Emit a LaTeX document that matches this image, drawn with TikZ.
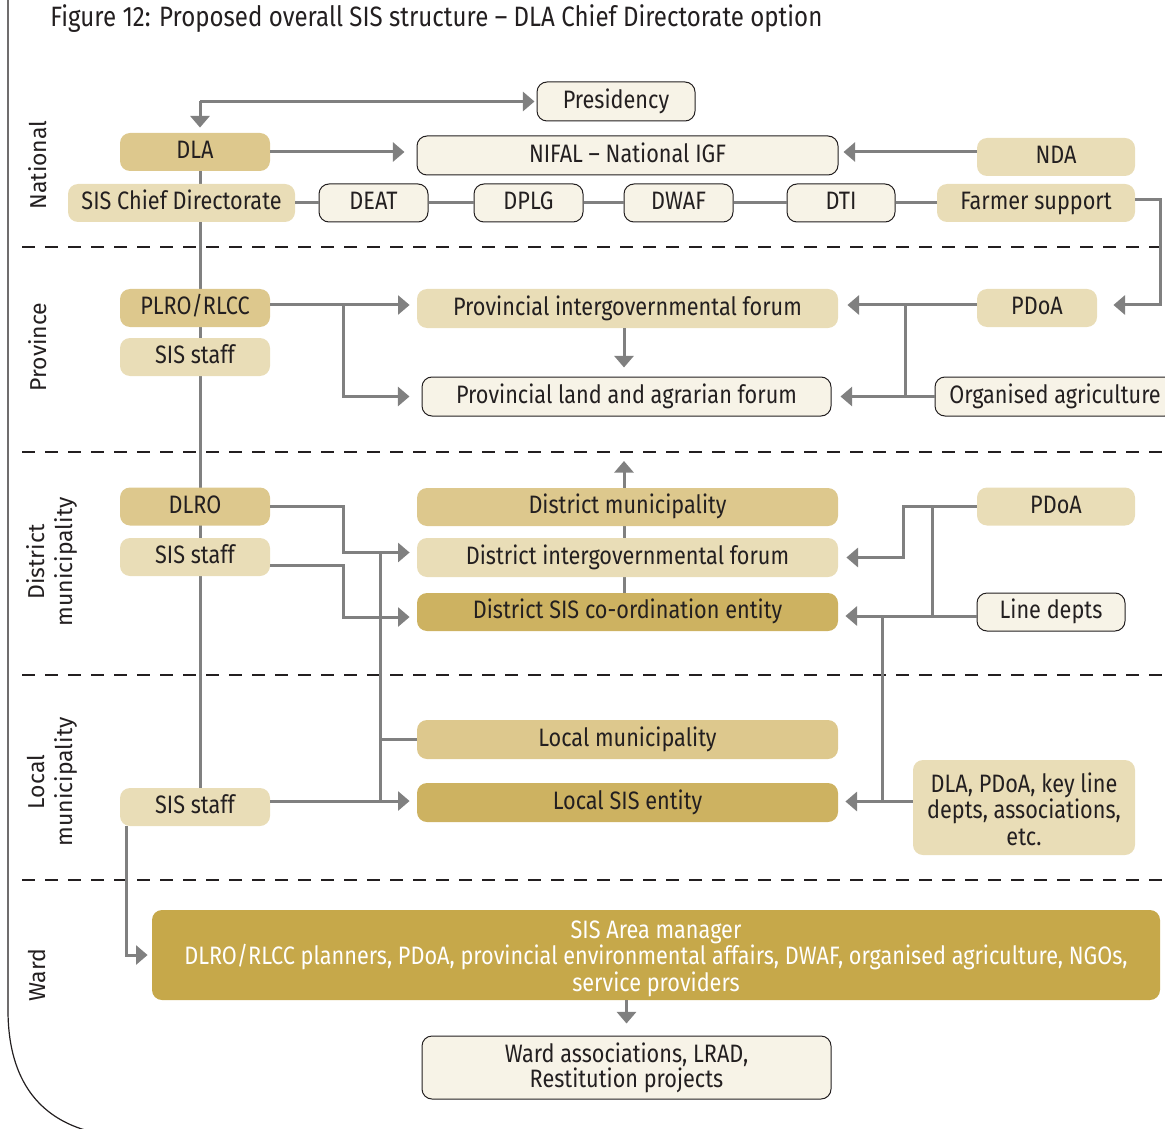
\documentclass[tikz,border=0pt]{standalone}
\usepackage{fontspec}
\setmainfont{Fira Sans}[FakeStretch=0.86]
\newfontfamily\labfont{Fira Sans}
\usetikzlibrary{arrows.meta,backgrounds,calc}
\definecolor{cdark}{HTML}{DDC88D}
\definecolor{clight}{HTML}{E9DDB7}
\definecolor{cmid}{HTML}{CDB261}
\definecolor{carea}{HTML}{C6A84A}
\definecolor{cout}{HTML}{F7F3E7}
\definecolor{cline}{HTML}{808080}
\definecolor{ctext}{HTML}{231F20}
\newcommand{\topstrut}[1]{\rule{0pt}{#1}}
\newcommand{\botstrut}{\rule[-2.5pt]{0pt}{2.5pt}}
\tikzset{
  boxbase/.style={rounded corners=5pt, inner sep=0pt, text=ctext, font=\fontsize{12.6pt}{13.25pt}\selectfont, align=center},
  box/.style={boxbase, text height=9.3pt, text depth=2.5pt},
  dark/.style={box, fill=cdark},
  light/.style={box, fill=clight},
  mid/.style={box, fill=cmid},
  outl/.style={box, fill=cout, draw=ctext, line width=0.5pt},
  multi/.style={text height={}, text depth={}},
  areabox/.style={boxbase, fill=carea, text=white},
  conn/.style={draw=cline, line width=1.5pt},
  arr/.style={conn, -{Triangle[length=5.8pt,width=9.5pt]}},
  dashline/.style={draw=ctext, line width=1.4pt, dash pattern=on 6.5pt off 5pt},
  lab/.style={rotate=90, font=\labfont\fontsize{11.5pt}{14pt}\selectfont, text=ctext, align=center},
}
\begin{document}
\begin{tikzpicture}[x=0.5pt,y=-0.5pt]
\useasboundingbox (0,0) rectangle (1165,1128);
\clip (0,0) rectangle (1165,1128);
% frame
\draw[ctext, line width=0.6pt] (8,0) -- (8,1010) .. controls (8,1075) and (35,1115) .. (85,1130);
% title
\node[anchor=base west, font=\fontsize{14pt}{16pt}\selectfont, text=ctext, inner sep=0pt] (title) at (50,27) {Figure 12: Proposed overall SIS structure – DLA Chief Directorate option};
% dashed separators
\foreach \yy in {247,452,675,880} \draw[dashline] (22,\yy) -- (1170,\yy);
% level labels
\node[lab] (lnat) at (38,165) {National};
\node[lab] (lprov) at (38,347) {Province};
\node[lab] (ldist) at (52,562) {District\\municipality};
\node[lab] (lloc) at (52,782) {Local\\municipality};
\node[lab] (lward) at (37,975) {Ward};
% coordinates
\coordinate (spine) at (200,0);
\coordinate (jx1) at (343,0);
\coordinate (jx3) at (380,0);
\coordinate (jx2) at (905,0);
\coordinate (jx4) at (903,0);
\coordinate (jx5) at (932,0);
\coordinate (jx6) at (882,0);
\coordinate (rightx) at (1160,0);
\coordinate (uptip) at (624,461);
% national
\node[outl, minimum width=79pt, minimum height=19.5pt] (pres) at (616,101.5) {Presidency};
\node[dark, minimum width=75pt, minimum height=19pt] (dla) at (195,152) {DLA};
\node[outl, minimum width=210.5pt, minimum height=19.5pt] (nifal) at (627.5,155.5) {NIFAL – National IGF};
\node[light, minimum width=79pt, minimum height=19pt] (nda) at (1056,157) {NDA};
\node[light, minimum width=113.5pt, minimum height=19pt] (sischief) at (181.5,203) {SIS Chief Directorate};
\node[outl, minimum width=54.5pt, minimum height=19pt] (deat) at (373.5,203) {DEAT};
\node[outl, minimum width=54.5pt, minimum height=19pt] (dplg) at (528.5,203) {DPLG};
\node[outl, minimum width=54.5pt, minimum height=19pt] (dwaf) at (678.5,203) {DWAF};
\node[outl, minimum width=54pt, minimum height=19pt] (dti) at (841,203) {DTI};
\node[light, minimum width=99pt, minimum height=19pt] (farmer) at (1036,203) {Farmer support};
% province
\node[dark, minimum width=75pt, minimum height=19pt] (plro) at (195,308) {PLRO/RLCC};
\node[light, minimum width=75pt, minimum height=19pt] (sisp) at (195,357) {SIS staff};
\node[light, minimum width=210.5pt, minimum height=19.5pt] (pigf) at (627.5,308.5) {Provincial intergovernmental forum};
\node[outl, minimum width=204.5pt, minimum height=19.5pt] (pland) at (626.5,396.5) {Provincial land and agrarian forum};
\node[light, minimum width=60pt, minimum height=19pt] (pdoap) at (1037,308) {PDoA};
\node[outl, minimum width=120pt, minimum height=19.5pt] (orgag) at (1055,396.5) {Organised agriculture};
% district
\node[dark, minimum width=75pt, minimum height=19pt] (dlro) at (195,506.5) {DLRO};
\node[light, minimum width=75pt, minimum height=19pt] (sisd) at (195,557) {SIS staff};
\node[dark, minimum width=210.5pt, minimum height=19pt] (dmun) at (627.5,507) {District municipality};
\node[light, minimum width=210.5pt, minimum height=19.5pt] (digf) at (627.5,557.5) {District intergovernmental forum};
\node[mid, minimum width=210.5pt, minimum height=19pt] (dsis) at (627.5,612) {District SIS co-ordination entity};
\node[light, minimum width=79pt, minimum height=19pt] (pdoad) at (1056,506.5) {PDoA};
\node[outl, minimum width=74pt, minimum height=19pt] (line) at (1051,612) {Line depts};
% local
\node[dark, minimum width=210.5pt, minimum height=19.5pt] (lmun) at (627.5,739.5) {Local municipality};
\node[mid, minimum width=210.5pt, minimum height=19.5pt] (lsis) at (627.5,802.5) {Local SIS entity};
\node[light, minimum width=75pt, minimum height=19pt] (sisl) at (195,807) {SIS staff};
\node[light, multi, minimum width=111pt, minimum height=47.5pt] (dlapdoa) at (1024,807.5) {\topstrut{13.5pt}DLA, PDoA, key line\\depts, associations,\\etc.\botstrut};
% ward
\node[areabox, minimum width=504pt, minimum height=45pt] (area) at (656,955) {\topstrut{12.5pt}SIS Area manager\\DLRO/RLCC planners, PDoA, provincial environmental affairs, DWAF, organised agriculture, NGOs,\\service providers\botstrut};
\node[outl, multi, font=\fontsize{12.6pt}{12.5pt}\selectfont, minimum width=204.5pt, minimum height=31.5pt] (ward) at (626.5,1067.5) {\topstrut{9.8pt}Ward associations, LRAD,\\Restitution projects\botstrut};
% helper coordinates
\coordinate (digfin) at ([yshift=2.5pt]digf.west);
\coordinate (dsisin) at ([yshift=-2.5pt]dsis.west);
\coordinate (linein) at ([yshift=-2pt]line.west);
\coordinate (dlain) at ([yshift=3pt]dlapdoa.west);
\coordinate (sislout) at ([yshift=3pt]sisl.east);
\coordinate (sisdout) at ([yshift=-4pt]sisd.east);
\coordinate (ndaout) at ([yshift=2.5pt]nda.west);
\coordinate (farmout) at ([yshift=1.5pt]farmer.east);
\coordinate (pdoapin) at ([yshift=1.5pt]pdoap.east);
\coordinate (pdoapout) at ([yshift=1.5pt]pdoap.west);
\coordinate (plroout) at ([yshift=1.5pt]plro.east);
\begin{pgfonlayer}{background}
\draw[conn] (dla.south -| spine) -- (sisl.north -| spine);
\draw[arr] (dsis.north -| uptip) -- (uptip);
\end{pgfonlayer}
% national connectors
\draw[arr, shorten >=1pt] (spine |- pres.west) -- (pres.west);
\draw[arr, shorten >=2.5pt] (spine |- pres.west) -- (spine |- dla.north);
\draw[arr, shorten >=6pt] (dla.east) -- (dla.east -| nifal.west);
\draw[arr, shorten >=2.5pt] (ndaout) -- (ndaout -| nifal.east);
\draw[conn] (sischief.east) -- (deat.west) (deat.east) -- (dplg.west) (dplg.east) -- (dwaf.west) (dwaf.east) -- (dti.west) (dti.east) -- (farmer.west);
\draw[arr, shorten >=8pt] (farmout) -- (farmout -| rightx) |- (pdoapin);
% province connectors
\draw[arr, shorten >=3.5pt] (plroout) -- (plroout -| pigf.west);
\draw[arr, shorten >=6pt] (plroout -| jx1) |- (pland.west);
\draw[arr, shorten >=4.5pt] (pigf.south -| uptip) -- (pland.north -| uptip);
\draw[arr, shorten >=4.5pt] (pdoapout) -- (pdoapout -| pigf.east);
\draw[conn] (pdoapout -| jx2) -- (orgag.west -| jx2);
\draw[arr, shorten >=4.5pt] (orgag.west) -- (orgag.west -| pland.east);
% district connectors
\draw[arr, shorten >=3.5pt] (dlro.east) -| (jx1 |- digfin) -- (digfin);
\draw[arr, shorten >=3.5pt] (sisdout) -| (jx1 |- dsisin) -- (dsisin);
\draw[conn] (jx3 |- digfin) -- (jx3 |- sislout);
\draw[conn] (jx3 |- lmun.west) -- (lmun.west);
\draw[arr, shorten >=3.5pt] (sislout) -- (sislout -| lsis.west);
\draw[arr, shorten >=4pt] (pdoad.west) -| (jx4 |- digf.east) -- (digf.east);
\draw[conn] (pdoad.west -| jx5) -- (jx5 |- linein);
\draw[arr, shorten >=3.5pt] (linein) -- (linein -| dsis.east);
\draw[conn] (jx6 |- linein) -- (jx6 |- dlain);
\draw[arr, shorten >=3.5pt] (dlain) -- (dlain -| lsis.east);
% ward connectors
\draw[arr, shorten >=2pt] ([xshift=3.5pt]sisl.south west) |- (area.west);
\draw[arr, shorten >=6pt] (area.south -| ward.north) -- (ward.north);
\end{tikzpicture}
\end{document}
